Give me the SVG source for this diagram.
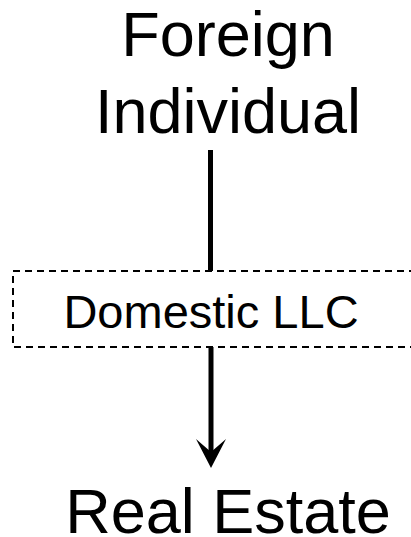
<svg xmlns="http://www.w3.org/2000/svg" width="411" height="537" viewBox="0 0 411 537">
  <style>
    .lbl { font-family: "Liberation Sans", Arial, sans-serif; fill: #000; text-anchor: middle; }
    .big { font-size: 63px; }
    .mid { font-size: 47px; }
    .edge { stroke: #000; stroke-width: 5; fill: none; }
  </style>
  <rect width="411" height="537" fill="#fff"/>

  <g id="connectors">
    <line class="edge" x1="210.5" y1="150" x2="210.5" y2="271"/>
    <line class="edge" x1="211" y1="347" x2="211" y2="452"/>
    <path d="M211 468 L196 439 L211 452 L226 439 Z" fill="#000"/>
  </g>

  <g id="foreign-individual">
    <text class="lbl big" x="228" y="56">Foreign</text>
    <text class="lbl big" x="228" y="133">Individual</text>
  </g>

  <g id="domestic-llc">
    <rect x="13" y="271" width="410" height="76" fill="none" stroke="#000" stroke-width="2" stroke-dasharray="7 5"/>
    <text class="lbl mid" x="211" y="328">Domestic LLC</text>
  </g>

  <g id="real-estate">
    <text class="lbl big" x="228" y="533">Real Estate</text>
  </g>
</svg>
